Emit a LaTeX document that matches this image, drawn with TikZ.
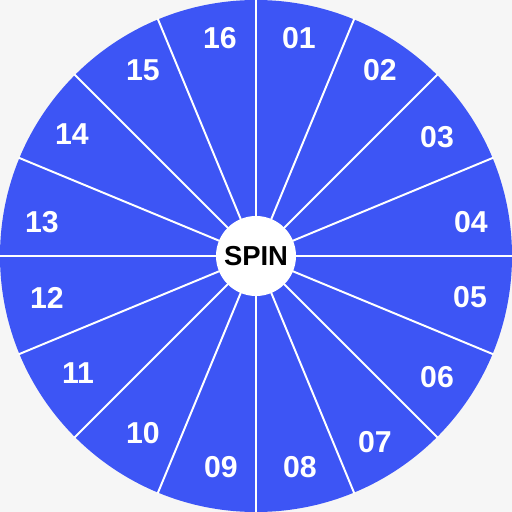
\documentclass[tikz,border=0pt]{standalone}
\usepackage{fontspec}
\setmainfont{Liberation Sans}
\definecolor{wheelblue}{RGB}{61,85,245}
\definecolor{pagegray}{RGB}{246,246,246}
\tikzset{
  segline/.style={draw=white,line width=1.4pt},
  seglabel/.style={text=white,font=\fontsize{21.5}{26}\selectfont\bfseries,inner sep=0pt},
  hub/.style={circle,fill=white,minimum size=80*0.025cm,inner sep=0pt,font=\fontsize{19.5}{23}\selectfont\bfseries}
}
\begin{document}
\begin{tikzpicture}[x=0.025cm,y=0.025cm]
		% page and wheel
		\fill[pagegray] (-256,-256) rectangle (256,256);
		\useasboundingbox (-256,-256) rectangle (256,256);
		\coordinate (c) at (0,0);
		\fill[wheelblue] (c) circle (256);
		
		% dividers between the sixteen segments
		\foreach \k in {0,...,15}{
			\coordinate (rim\k) at (\k*22.5:257);
			\draw[segline] (c) -- (rim\k);
		}
		
		% segment numbers, clockwise from the top
		\foreach \i/\t/\x/\y in {1/01/43/218,2/02/124/186,3/03/181/119,4/04/215/34,
			5/05/214/-41,6/06/181/-121,7/07/119/-186,8/08/44/-211,
			9/09/-35/-211,10/10/-113/-177,11/11/-178/-117,12/12/-209/-42,
			13/13/-214/34,14/14/-184/122,15/15/-113/186,16/16/-36/218}{
			\node[seglabel] (n\i) at (\x,\y) {\t};
		}
		
		% hub
		\node[hub] (spin) at (c) {SPIN};
	\end{tikzpicture}
\end{document}
